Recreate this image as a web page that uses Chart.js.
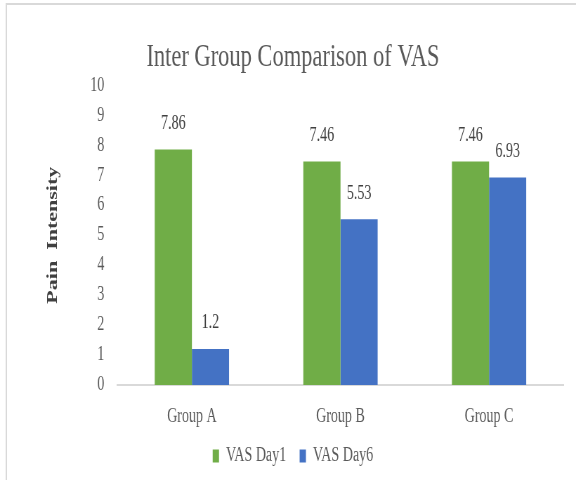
<!DOCTYPE html>
<html>
<head>
<meta charset="utf-8">
<title>Inter Group Comparison of VAS</title>
<script src="https://cdn.jsdelivr.net/npm/chart.js@4.4.0/dist/chart.umd.min.js"></script>
<style>
  html, body { margin: 0; padding: 0; background: #fff; }
</style>
</head>
<body>
<!-- drawn wider than shown, then squeezed like the original export -->
<canvas id="grafico" width="820" height="480" style="display:block;width:576px;height:480px"></canvas>
<script>
var grupos = ['Group A', 'Group B', 'Group C']
var vasDia1 = [7.86, 7.46, 7.46]
var vasDia6 = [1.2, 5.53, 6.93]
var ticksY = [0, 1, 2, 3, 4, 5, 6, 7, 8, 9, 10]

var fonte = '"Liberation Serif", "Times New Roman", serif'
var ctx = document.getElementById('grafico').getContext('2d')

// white background plus the grey frame on top and left
var moldura = {
    id: 'moldura',
    beforeDraw: function(chart){
        var c = chart.ctx
        c.save()
        c.fillStyle = '#ffffff'
        c.fillRect(0, 0, chart.width, chart.height)
        c.strokeStyle = '#d9d9d9'
        c.lineWidth = 2
        c.beginPath()
        c.moveTo(9, chart.height)
        c.lineTo(9, 4)
        c.lineTo(chart.width, 4)
        c.stroke()
        c.restore()
    }
}

// value over each bar
var rotulos = {
    id: 'rotulos',
    afterDatasetsDraw: function(chart){
        var c = chart.ctx
        c.save()
        c.font = '20px ' + fonte
        c.fillStyle = '#404040'
        c.textAlign = 'center'
        c.textBaseline = 'middle'
        chart.data.datasets.forEach(function(ds, i){
            chart.getDatasetMeta(i).data.forEach(function(barra, j){
                c.fillText(String(ds.data[j]), barra.x, barra.y - 26)
            })
        })
        c.restore()
    }
}

var chart = new Chart(ctx, {
    type: 'bar',
    data: {
        labels: grupos,
        datasets: [{
            label: 'VAS Day1',
            data: vasDia1,
            backgroundColor: '#70ad47',
            categoryPercentage: 0.5,
            barPercentage: 1
        }, {
            label: 'VAS Day6',
            data: vasDia6,
            backgroundColor: '#4472c4',
            categoryPercentage: 0.5,
            barPercentage: 1
        }]
    },
    options: {
        responsive: false,
        animation: false,
        devicePixelRatio: 1,
        layout: { padding: { left: 32, right: 18, top: 0, bottom: 4 } },
        plugins: {
            title: {
                display: true,
                text: 'Inter Group Comparison of VAS',
                color: '#595959',
                font: { family: fonte, size: 32, weight: 'normal' },
                padding: { top: 38, bottom: 9 }
            },
            legend: {
                position: 'bottom',
                labels: {
                    boxWidth: 9,
                    boxHeight: 13,
                    padding: 19,
                    color: '#595959',
                    font: { family: fonte, size: 20 }
                }
            },
            tooltip: { enabled: false }
        },
        scales: {
            x: {
                grid: { display: false, drawTicks: false },
                border: { display: true, color: '#d9d9d9', width: 2 },
                ticks: { padding: 22, color: '#595959', font: { family: fonte, size: 20, lineHeight: 1 } },
                // padding is counted twice by chart.js, keep it once
                afterFit: function(escala){ escala.height = 42 }
            },
            y: {
                min: ticksY[0],
                max: ticksY[ticksY.length - 1],
                grid: { display: false, drawTicks: false },
                border: { display: false },
                ticks: {
                    stepSize: ticksY[1] - ticksY[0],
                    padding: 19,
                    color: '#595959',
                    font: { family: fonte, size: 20 }
                },
                title: {
                    display: true,
                    text: 'Pain  Intensity',
                    color: '#404040',
                    font: { family: fonte, size: 22, weight: 'bold' },
                    padding: { top: 30, bottom: 21 }
                }
            }
        }
    },
    plugins: [moldura, rotulos]
})
</script>
</body>
</html>
